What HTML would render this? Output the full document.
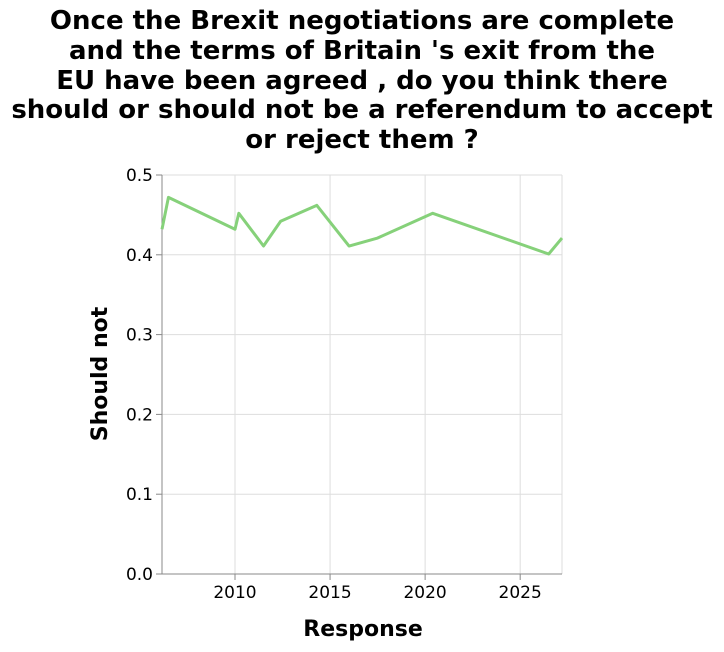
<!DOCTYPE html>
<html><head><meta charset="utf-8"><style>
body{margin:0;background:#fff;width:724px;height:648px;overflow:hidden;font-family:"DejaVu Sans",sans-serif}
svg text{font-family:"DejaVu Sans",sans-serif}
</style></head><body>
<svg width="724" height="648" xmlns="http://www.w3.org/2000/svg">
<g font-weight="bold" font-size="26" text-anchor="middle" fill="#000">
<text x="362" y="29">Once the Brexit negotiations are complete</text>
<text x="362" y="59">and the terms of Britain 's exit from the</text>
<text x="362" y="89">EU have been agreed , do you think there</text>
<text x="362" y="118">should or should not be a referendum to accept</text>
<text x="362" y="148">or reject them ?</text>
</g>
<g id="grid"></g>
<g id="axes"></g>
<path id="line" fill="none" stroke="#86d17a" stroke-width="3" stroke-linejoin="round"/>
<text x="107" y="374" transform="rotate(-90 107 374)" text-anchor="middle" font-weight="bold" font-size="22">Should not</text>
<text x="363" y="636" text-anchor="middle" font-weight="bold" font-size="22">Response</text>
</svg>
<script>
const years=[2006.16,2006.5,2010,2010.2,2011.5,2012.4,2014.3,2016,2017.5,2020.4,2026.5,2027.2];
const values=[0.432,0.472,0.432,0.452,0.411,0.442,0.462,0.411,0.421,0.452,0.401,0.421];
const xTicks=[2010,2015,2020,2025];
const yTicks=[0,0.1,0.2,0.3,0.4,0.5];
const yTickLabels=["0.0","0.1","0.2","0.3","0.4","0.5"];
const X0=162,X1=562,Y0=574,Y1=175,xMin=2006.16,xMax=2027.2;
const sx=v=>X0+(v-xMin)/(xMax-xMin)*(X1-X0);
const sy=v=>Y0-(v/0.5)*(Y0-Y1);
const NS="http://www.w3.org/2000/svg";
const grid=document.getElementById('grid'),axes=document.getElementById('axes');
function mk(tag,at,parent){const e=document.createElementNS(NS,tag);for(const k in at)e.setAttribute(k,at[k]);parent.appendChild(e);return e;}
yTicks.forEach((t,i)=>{const y=sy(t);
 const g=mk('line',{x1:X0,x2:X1,y1:y,y2:y,stroke:'#ddd'},grid);
 
 
 const tk=mk('line',{x1:X0-6,x2:X0,y1:y,y2:y,stroke:'#888'},axes);
 
 
 const tx=mk('text',{x:X0-9,y:y+6,'text-anchor':'end','font-size':'17'},axes);tx.textContent=yTickLabels[i];
 
 
});
xTicks.forEach(t=>{const x=sx(t);
 const g=mk('line',{x1:x,x2:x,y1:Y1,y2:Y0,stroke:'#ddd'},grid);
 
 
 const tk=mk('line',{x1:x,x2:x,y1:Y0,y2:Y0+6,stroke:'#888'},axes);
 
 
 const tx=mk('text',{x:x,y:Y0+24,'text-anchor':'middle','font-size':'17'},axes);tx.textContent=t;
 
 
});
const rg=mk('line',{x1:X1,x2:X1,y1:Y1,y2:Y0,stroke:'#ddd'},grid);


const ya=mk('line',{x1:X0,x2:X0,y1:Y1,y2:Y0,stroke:'#888'},axes);


const xa=mk('line',{x1:X0,x2:X1,y1:Y0,y2:Y0,stroke:'#888'},axes);


document.getElementById('line').setAttribute('d',years.map((y,i)=>(i?'L':'M')+sx(y)+','+sy(values[i])).join(''));
</script>
</body></html>
